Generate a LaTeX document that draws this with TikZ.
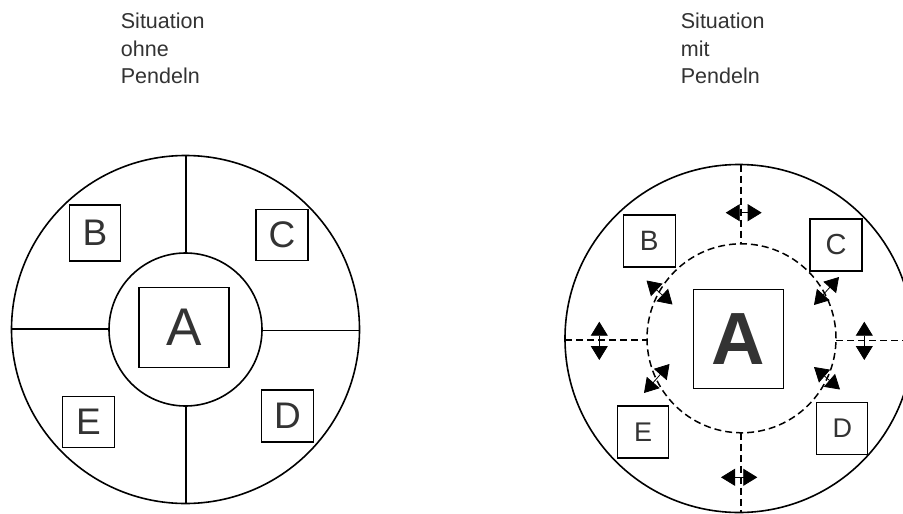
\documentclass[tikz,border=0pt]{standalone}
\usepackage{fontspec}
\setmainfont{Liberation Sans}
\usetikzlibrary{arrows.meta}
\definecolor{txt}{HTML}{333333}
\tikzset{
  lbox/.style={draw=black, line width=1.3pt, inner sep=0pt, text=txt},
  title/.style={anchor=north west, inner sep=0pt, align=left, text=txt, font=\fontsize{21.5}{27.5}\selectfont},
  solidline/.style={line width=1.6pt},
  dashline/.style={line width=1.5pt, dash pattern=on 7pt off 4pt},
  pend/.style={line width=0.8pt, {Triangle[length=14pt,width=17pt]}-{Triangle[length=14pt,width=17pt]}},
}
\begin{document}
\begin{tikzpicture}[x=1pt,y=-1pt]
\useasboundingbox (0,0) rectangle (903,514);
\clip (0,0) rectangle (903,514);
\fill[white] (0,0) rectangle (903,514);

% titles
\node[title] (t1) at (120.7,13) {Situation\\ohne\\Pendeln};
\node[title] (t2) at (680.7,13) {Situation\\mit\\Pendeln};

% ---------- left: without pendulum ----------
\coordinate (lc) at (185.5,329.5);
\draw[solidline] (lc) circle[radius=174pt];
\draw[solidline] (lc) circle[radius=76.5pt];
\coordinate (lt1) at (186,155);   \coordinate (lt2) at (186,253);
\coordinate (lb1) at (186,406);   \coordinate (lb2) at (186,503.5);
\coordinate (ll1) at (11.5,329);  \coordinate (ll2) at (109,329);
\coordinate (lr1) at (262,330.5); \coordinate (lr2) at (359.5,330.5);
\draw[solidline] (lt1) -- (lt2);
\draw[solidline] (lb1) -- (lb2);
\draw[solidline] (ll1) -- (ll2);
\draw[solidline] (lr1) -- (lr2);

\node[lbox, minimum width=90pt, minimum height=80pt, font=\fontsize{53}{60}\selectfont] (lA) at (184,327.7) {A};
\node[lbox, minimum width=51pt, minimum height=56pt, font=\fontsize{37}{44}\selectfont] (lB) at (95,233) {B};
\node[lbox, minimum width=52pt, minimum height=51pt, font=\fontsize{37}{44}\selectfont] (lC) at (282,235) {C};
\node[lbox, minimum width=52pt, minimum height=51pt, font=\fontsize{37}{44}\selectfont] (lE) at (88.5,421.7) {E};
\node[lbox, minimum width=52pt, minimum height=52pt, font=\fontsize{37}{44}\selectfont] (lD) at (287.5,416) {D};

% ---------- right: with pendulum ----------
\coordinate (rc) at (739,338.5);
\coordinate (ric) at (741.5,338.3);
\draw[solidline] (rc) circle[radius=174pt];
\draw[dashline] (ric) circle[radius=94.5pt];
\coordinate (rt1) at (741,164.5);  \coordinate (rt2) at (741,243.8);
\coordinate (rb1) at (741,432.8);  \coordinate (rb2) at (741,513);
\coordinate (rl1) at (565,340);    \coordinate (rl2) at (647,340);
\coordinate (rr1) at (836,340.7);  \coordinate (rr2) at (910,340.7);
\draw[dashline] (rt1) -- (rt2);
\draw[dashline] (rb1) -- (rb2);
\draw[dashline] (rl1) -- (rl2);
\draw[dashline] (rr1) -- (rr2);

\node[lbox, minimum width=90pt, minimum height=99pt, font=\fontsize{74}{80}\selectfont\bfseries] (rA) at (738.3,338.7) {A};
\node[lbox, minimum width=52pt, minimum height=52pt, font=\fontsize{28}{34}\selectfont] (rB) at (649.3,241) {B};
\node[lbox, minimum width=52pt, minimum height=52pt, font=\fontsize{29}{34}\selectfont] (rC) at (836,245) {C};
\node[lbox, minimum width=51pt, minimum height=52pt, font=\fontsize{27}{34}\selectfont] (rE) at (643,432) {E};
\node[lbox, minimum width=51pt, minimum height=52pt, font=\fontsize{27}{34}\selectfont] (rD) at (842.3,428.3) {D};

% pendulum arrows
\coordinate (p1a) at (725.7,212.7); \coordinate (p1b) at (761.7,212.7);
\coordinate (p2a) at (721,477.3);   \coordinate (p2b) at (757.3,477.3);
\coordinate (p3a) at (599.3,321.7); \coordinate (p3b) at (599.3,360);
\coordinate (p4a) at (864.3,321.7); \coordinate (p4b) at (864.3,360);
\coordinate (p5a) at (646.5,280.5); \coordinate (p5b) at (672.5,304.5);
\coordinate (p6a) at (839,277);     \coordinate (p6b) at (814,305);
\coordinate (p7a) at (669.5,364);   \coordinate (p7b) at (644,393);
\coordinate (p8a) at (814,367);     \coordinate (p8b) at (840,389.5);
\draw[pend] (p1a) -- (p1b);
\draw[pend] (p2a) -- (p2b);
\draw[pend] (p3a) -- (p3b);
\draw[pend] (p4a) -- (p4b);
\draw[pend] (p5a) -- (p5b);
\draw[pend] (p6a) -- (p6b);
\draw[pend] (p7a) -- (p7b);
\draw[pend] (p8a) -- (p8b);
\end{tikzpicture}
\end{document}
